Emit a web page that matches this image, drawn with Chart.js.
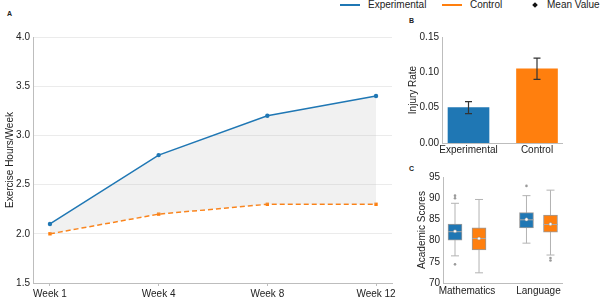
<!DOCTYPE html>
<html>
<head>
<meta charset="utf-8">
<script src="https://cdn.jsdelivr.net/npm/chart.js@4.4.0/dist/chart.umd.min.js"></script>
<style>
  html, body { margin: 0; padding: 0; background: #fff; }
  body { width: 600px; height: 304px; position: relative; overflow: hidden; font-family: "Liberation Sans", Arial, sans-serif; color: #222; }
  canvas { position: absolute; }
  .tag { position: absolute; font-size: 7px; font-weight: bold; color: #222; }
  .legend-text { position: absolute; top: -1px; font-size: 10px; white-space: nowrap; }
  .legend-line { position: absolute; top: 4px; width: 20px; height: 1.5px; }
  .legend-diamond { position: absolute; top: 3px; width: 4px; height: 4px; background: #111; transform: rotate(45deg); }
</style>
</head>
<body>
<div class="legend-line" style="left:340px;background:#1f77b4"></div>
<div class="legend-text" style="left:368px">Experimental</div>
<div class="legend-line" style="left:442px;background:#ff7f0e"></div>
<div class="legend-text" style="left:470px">Control</div>
<div class="legend-diamond" style="left:533px"></div>
<div class="legend-text" style="left:547px">Mean Value</div>

<div class="tag" style="left:7px;top:10px">A</div>
<div class="tag" style="left:409px;top:17px">B</div>
<div class="tag" style="left:409px;top:165px">C</div>

<canvas id="chart-a" width="400" height="304" style="left:0;top:0"></canvas>
<canvas id="chart-b" width="200" height="140" style="left:400px;top:20px"></canvas>
<canvas id="chart-c" width="200" height="139" style="left:400px;top:165px"></canvas>

<script>
// panel A
const weeks = ["Week 1", "Week 4", "Week 8", "Week 12"];
const experimentalHours = [2.1, 2.8, 3.2, 3.4];
const controlHours = [2.0, 2.2, 2.3, 2.3];

// panel B
const groups = ["Experimental", "Control"];
const injuryRate = [0.05, 0.105];
const injuryError = [0.0085, 0.015];

// panel C
const subjects = ["Mathematics", "Language"];
const expQ1 = [80.1, 83.0];
const expMedian = [82.1, 84.9];
const expQ3 = [83.9, 86.6];
const expLow = [76.4, 79.4];
const expHigh = [88.8, 90.6];
const expMean = [82.2, 85.0];
const expOutliers = [[74.4, 90.0, 90.6], [92.9]];
const ctrlQ1 = [77.8, 82.0];
const ctrlMedian = [80.5, 83.8];
const ctrlQ3 = [83.0, 86.0];
const ctrlLow = [72.4, 76.6];
const ctrlHigh = [89.7, 91.9];
const ctrlMean = [80.5, 83.9];
const ctrlOutliers = [[], [75.3, 75.9]];

const BLUE = "#1f77b4";
const ORANGE = "#ff7f0e";
const AXIS = "#bdbdbd";
const TEXT = "#222";

Chart.defaults.font.family = '"Liberation Sans", Arial, sans-serif';
Chart.defaults.font.size = 10;
Chart.defaults.color = TEXT;

const commonOptions = {
  responsive: false,
  animation: false,
  devicePixelRatio: 1,
  plugins: { legend: { display: false }, tooltip: { enabled: false } },
};

function indexTicks(labels) {
  return (scale) => {
    scale.ticks = labels.map((_, i) => ({ value: i }));
  };
}

// ---- A: exercise hours
new Chart(document.getElementById("chart-a"), {
  type: "line",
  data: {
    datasets: [
      {
        label: "Experimental",
        data: experimentalHours.map((y, i) => ({ x: i, y })),
        borderColor: BLUE,
        backgroundColor: "rgba(190, 190, 190, 0.22)",
        fill: "+1",
        borderWidth: 1.5,
        pointRadius: 2.2,
        pointBackgroundColor: BLUE,
        pointBorderWidth: 0,
      },
      {
        label: "Control",
        data: controlHours.map((y, i) => ({ x: i, y })),
        borderColor: ORANGE,
        borderDash: [5, 3],
        borderWidth: 1.5,
        pointStyle: "rect",
        pointRadius: 2.4,
        pointBackgroundColor: ORANGE,
        pointBorderWidth: 0,
        fill: false,
      },
    ],
  },
  options: {
    ...commonOptions,
    layout: { padding: { top: 37, right: 8, left: 0, bottom: 0 } },
    scales: {
      x: {
        type: "linear",
        min: -0.156,
        max: 3.147,
        afterBuildTicks: indexTicks(weeks),
        afterFit: (s) => { s.height = 21; },
        ticks: { callback: (v) => weeks[v], padding: 2, maxRotation: 0, autoSkip: false },
        grid: { drawOnChartArea: false, tickLength: 3, color: AXIS },
        border: { color: AXIS },
      },
      y: {
        min: 1.5,
        max: 4.0,
        afterFit: (s) => { s.width = 33; },
        ticks: { stepSize: 0.5, callback: (v) => v.toFixed(1), padding: 3 },
        grid: { color: "#ebebeb", drawTicks: false },
        border: { color: AXIS },
        title: { display: true, text: "Exercise Hours/Week", padding: { top: 4, bottom: 0 } },
      },
    },
  },
});

// ---- B: injury rate with error bars
const errorBars = {
  id: "errorBars",
  afterDatasetsDraw(chart) {
    const { ctx } = chart;
    const y = chart.scales.y;
    chart.getDatasetMeta(0).data.forEach((bar, i) => {
      const top = y.getPixelForValue(injuryRate[i] + injuryError[i]);
      const bottom = y.getPixelForValue(injuryRate[i] - injuryError[i]);
      ctx.save();
      ctx.strokeStyle = "#333";
      ctx.lineWidth = 1.2;
      ctx.beginPath();
      ctx.moveTo(bar.x, top);
      ctx.lineTo(bar.x, bottom);
      ctx.moveTo(bar.x - 3.5, top);
      ctx.lineTo(bar.x + 3.5, top);
      ctx.moveTo(bar.x - 3.5, bottom);
      ctx.lineTo(bar.x + 3.5, bottom);
      ctx.stroke();
      ctx.restore();
    });
  },
};

new Chart(document.getElementById("chart-b"), {
  type: "bar",
  data: {
    datasets: [
      {
        data: injuryRate.map((y, i) => ({ x: i, y })),
        backgroundColor: [BLUE, ORANGE],
        barThickness: 41,
      },
    ],
  },
  options: {
    ...commonOptions,
    layout: { padding: { top: 17, right: 38, left: 0, bottom: 0 } },
    scales: {
      x: {
        type: "linear",
        offset: false,
        min: -0.387,
        max: 1.365,
        afterBuildTicks: indexTicks(groups),
        afterFit: (s) => { s.height = 17; },
        ticks: { callback: (v) => groups[v], padding: 1, maxRotation: 0, autoSkip: false },
        grid: { display: false, drawTicks: false, offset: false },
        border: { color: AXIS },
      },
      y: {
        min: 0,
        max: 0.15,
        afterFit: (s) => { s.width = 42; },
        ticks: { stepSize: 0.05, callback: (v) => v.toFixed(2), padding: 3 },
        grid: { display: false, drawTicks: false },
        border: { color: AXIS },
        title: { display: true, text: "Injury Rate", padding: { top: 7, bottom: 0 } },
      },
    },
  },
  plugins: [errorBars],
});

// ---- C: academic scores box plots
const DODGE = 0.168;
const boxSeries = [
  { q1: expQ1, med: expMedian, q3: expQ3, lo: expLow, hi: expHigh, mean: expMean, out: expOutliers, color: BLUE, shift: -DODGE },
  { q1: ctrlQ1, med: ctrlMedian, q3: ctrlQ3, lo: ctrlLow, hi: ctrlHigh, mean: ctrlMean, out: ctrlOutliers, color: ORANGE, shift: DODGE },
];

const boxParts = {
  id: "boxParts",
  beforeDatasetsDraw(chart) {
    const { ctx } = chart;
    const y = chart.scales.y;
    boxSeries.forEach((s, d) => {
      chart.getDatasetMeta(d).data.forEach((bar, i) => {
        const lo = y.getPixelForValue(s.lo[i]);
        const hi = y.getPixelForValue(s.hi[i]);
        ctx.save();
        ctx.strokeStyle = "#b3b3b3";
        ctx.lineWidth = 1;
        ctx.beginPath();
        ctx.moveTo(bar.x, lo);
        ctx.lineTo(bar.x, hi);
        ctx.moveTo(bar.x - 4, lo);
        ctx.lineTo(bar.x + 4, lo);
        ctx.moveTo(bar.x - 4, hi);
        ctx.lineTo(bar.x + 4, hi);
        ctx.stroke();
        ctx.restore();
      });
    });
  },
  afterDatasetsDraw(chart) {
    const { ctx } = chart;
    const y = chart.scales.y;
    boxSeries.forEach((s, d) => {
      chart.getDatasetMeta(d).data.forEach((bar, i) => {
        const med = y.getPixelForValue(s.med[i]);
        const mean = y.getPixelForValue(s.mean[i]);
        ctx.save();
        ctx.strokeStyle = "#a8a8a8";
        ctx.lineWidth = 1;
        ctx.beginPath();
        ctx.moveTo(bar.x - 7, med);
        ctx.lineTo(bar.x + 7, med);
        ctx.stroke();
        ctx.beginPath();
        ctx.arc(bar.x, mean, 1.6, 0, Math.PI * 2);
        ctx.fillStyle = "#fff";
        ctx.fill();
        ctx.strokeStyle = "#888";
        ctx.lineWidth = 0.5;
        ctx.stroke();
        ctx.restore();
      });
    });
  },
};

const outlierPoints = [];
boxSeries.forEach((s) => {
  s.out.forEach((vals, i) => vals.forEach((v) => outlierPoints.push({ x: i + s.shift, y: v })));
});

new Chart(document.getElementById("chart-c"), {
  type: "bar",
  data: {
    datasets: [
      ...boxSeries.map((s) => ({
        data: s.q1.map((q, i) => ({ x: i + s.shift, y: [q, s.q3[i]] })),
        backgroundColor: s.color,
        borderColor: "#9a9a9a",
        borderWidth: 1,
        borderSkipped: false,
        barThickness: 14,
        grouped: false,
      })),
      {
        type: "scatter",
        data: outlierPoints,
        pointRadius: 1.3,
        pointBackgroundColor: "#9a9a9a",
        pointBorderWidth: 0,
      },
    ],
  },
  options: {
    ...commonOptions,
    layout: { padding: { top: 12, right: 38, left: 0, bottom: 0 } },
    scales: {
      x: {
        type: "linear",
        offset: false,
        min: -0.336,
        max: 1.329,
        afterBuildTicks: indexTicks(subjects),
        afterFit: (s) => { s.height = 21; },
        ticks: { callback: (v) => subjects[v], padding: 2, maxRotation: 0, autoSkip: false },
        grid: { display: false, drawTicks: false, offset: false },
        border: { color: AXIS },
      },
      y: {
        min: 70,
        max: 95,
        afterFit: (s) => { s.width = 43; },
        ticks: { stepSize: 5, padding: 3 },
        grid: { display: false, drawTicks: false },
        border: { color: AXIS },
        title: { display: true, text: "Academic Scores", padding: { top: 16, bottom: 0 } },
      },
    },
  },
  plugins: [boxParts],
});
</script>
</body>
</html>
